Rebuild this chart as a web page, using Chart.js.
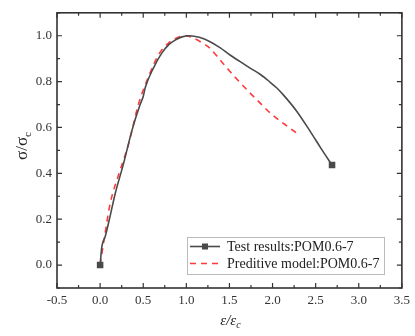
<!DOCTYPE html>
<html>
<head>
<meta charset="utf-8">
<script src="https://cdn.jsdelivr.net/npm/chart.js@4"></script>
<style>
html,body{margin:0;padding:0;background:#fff;}
canvas{display:block;}
</style>
</head>
<body>
<canvas id="c" width="415" height="336"></canvas>
<script>
// ---- data ----
const testX = [0, 0.02, 0.058, 0.12, 0.174, 0.27, 0.367, 0.464, 0.50, 0.522, 0.618, 0.715, 0.80, 0.87, 0.95, 1.04, 1.15, 1.275, 1.39, 1.507, 1.62, 1.74, 1.86, 1.97, 2.05, 2.125, 2.28, 2.435, 2.56, 2.69];
const testY = [0, 0.08, 0.123, 0.22, 0.31, 0.44, 0.584, 0.70, 0.735, 0.772, 0.859, 0.924, 0.962, 0.981, 0.995, 1.0, 0.993, 0.974, 0.948, 0.916, 0.888, 0.859, 0.831, 0.798, 0.772, 0.742, 0.671, 0.584, 0.51, 0.436];
const predX = [0, 0.05, 0.116, 0.22, 0.33, 0.444, 0.56, 0.676, 0.80, 0.90, 0.985, 1.08, 1.18, 1.275, 1.39, 1.507, 1.62, 1.74, 1.86, 1.97, 2.14, 2.3];
const predY = [0, 0.12, 0.267, 0.40, 0.527, 0.70, 0.82, 0.916, 0.97, 0.992, 1.0, 0.99, 0.97, 0.945, 0.895, 0.844, 0.797, 0.75, 0.705, 0.664, 0.614, 0.57];
const xTicks = [-0.5, 0.0, 0.5, 1.0, 1.5, 2.0, 2.5, 3.0, 3.5];
const yTicks = [0.0, 0.2, 0.4, 0.6, 0.8, 1.0];
const seriesLabels = ["Test results:POM0.6-7", "Preditive model:POM0.6-7"];

const toPts = (xs, ys) => xs.map((x, i) => ({x: x, y: ys[i]}));
const markerRadius = (n) => Array.from({length: n}, (_, i) => (i === 0 || i === n - 1) ? 3.5 : 0);

const AXIS = '#333333';
const SERIF = '"Liberation Serif", "Times New Roman", serif';

const framePlugin = {
  id: 'frame',
  afterDraw(chart) {
    const ctx = chart.ctx, a = chart.chartArea;
    const xs = chart.scales.x, ys = chart.scales.y;
    ctx.save();
    ctx.strokeStyle = AXIS;
    ctx.lineWidth = 1.6;
    ctx.strokeRect(a.left, a.top, a.right - a.left, a.bottom - a.top);
    ctx.lineWidth = 1.2;
    ctx.beginPath();
    for (let i = 0; i < xTicks.length; i++) {
      const px = xs.getPixelForValue(xTicks[i]);
      ctx.moveTo(px, a.bottom); ctx.lineTo(px, a.bottom - 5);
      ctx.moveTo(px, a.top); ctx.lineTo(px, a.top + 5);
      if (i < xTicks.length - 1) {
        const mx = xs.getPixelForValue((xTicks[i] + xTicks[i + 1]) / 2);
        ctx.moveTo(mx, a.bottom); ctx.lineTo(mx, a.bottom - 3);
        ctx.moveTo(mx, a.top); ctx.lineTo(mx, a.top + 3);
      }
    }
    for (let i = 0; i < yTicks.length; i++) {
      const py = ys.getPixelForValue(yTicks[i]);
      ctx.moveTo(a.left, py); ctx.lineTo(a.left + 5, py);
      ctx.moveTo(a.right, py); ctx.lineTo(a.right - 5, py);
    }
    for (let v = -0.1; v < 1.11; v += 0.2) {
      const py = ys.getPixelForValue(v);
      ctx.moveTo(a.left, py); ctx.lineTo(a.left + 3, py);
      ctx.moveTo(a.right, py); ctx.lineTo(a.right - 3, py);
    }
    ctx.stroke();

    ctx.fillStyle = '#222';
    // x title: ε/εc
    ctx.font = 'italic 15px ' + SERIF;
    ctx.textBaseline = 'alphabetic';
    const main = 'ε/ε';
    const w1 = ctx.measureText(main).width;
    ctx.font = 'italic 10px ' + SERIF;
    const w2 = ctx.measureText('c').width;
    const cx = (a.left + a.right) / 2 + 1;
    let sx = cx - (w1 + w2) / 2;
    ctx.font = 'italic 15px ' + SERIF;
    ctx.textAlign = 'left';
    ctx.fillText(main, sx, 325);
    ctx.font = 'italic 10px ' + SERIF;
    ctx.fillText('c', sx + w1, 328);

    // y title: σ/σc rotated
    ctx.save();
    ctx.translate(27, 146);
    ctx.rotate(-Math.PI / 2);
    ctx.font = '17px ' + SERIF;
    const m2 = 'σ/σ';
    const v1 = ctx.measureText(m2).width;
    ctx.font = '11px ' + SERIF;
    const v2 = ctx.measureText('c').width;
    let sy = -(v1 + v2) / 2;
    ctx.font = '17px ' + SERIF;
    ctx.fillText(m2, sy, 0);
    ctx.font = '11px ' + SERIF;
    ctx.fillText('c', sy + v1, 4);
    ctx.restore();

    // legend box
    const L = 187, T = 237, R = 384, B = 274;
    ctx.fillStyle = '#ffffff';
    ctx.fillRect(L, T, R - L, B - T);
    ctx.strokeStyle = '#bbbbbb';
    ctx.lineWidth = 1;
    ctx.strokeRect(L + 0.5, T + 0.5, R - L, B - T);
    const ds = chart.data.datasets;
    const rows = [246.5, 263.5];
    for (let k = 0; k < 2; k++) {
      const y = rows[k];
      ctx.strokeStyle = ds[k].borderColor;
      ctx.lineWidth = 1.6;
      ctx.setLineDash(k === 1 ? [6, 5] : []);
      ctx.beginPath();
      ctx.moveTo(190, y); ctx.lineTo(220, y);
      ctx.stroke();
      ctx.setLineDash([]);
      if (k === 0) {
        ctx.fillStyle = ds[0].borderColor;
        ctx.fillRect(202, y - 3, 6, 6);
      }
      ctx.fillStyle = '#222';
      ctx.font = '14px ' + SERIF;
      ctx.textBaseline = 'middle';
      ctx.fillText(ds[k].label, 227, y + 1);
    }
    ctx.restore();
  }
};

new Chart(document.getElementById('c'), {
  type: 'scatter',
  data: {
    datasets: [
      {
        label: seriesLabels[0],
        data: toPts(testX, testY),
        showLine: true,
        borderColor: '#4a4a4a',
        backgroundColor: '#4a4a4a',
        borderWidth: 1.6,
        pointStyle: 'rect',
        pointRadius: markerRadius(testX.length),
        pointHoverRadius: 0,
        cubicInterpolationMode: 'monotone'
      },
      {
        label: seriesLabels[1],
        data: toPts(predX, predY),
        showLine: true,
        borderColor: '#ff3b3b',
        backgroundColor: '#ff3b3b',
        borderWidth: 1.6,
        borderDash: [6, 5],
        pointRadius: 0,
        cubicInterpolationMode: 'monotone'
      }
    ]
  },
  options: {
    responsive: false,
    animation: false,
    events: [],
    layout: {padding: {top: 11, right: 13, left: 0, bottom: 0}},
    plugins: {legend: {display: false}, tooltip: {enabled: false}},
    scales: {
      x: {
        type: 'linear', min: -0.5, max: 3.5,
        grid: {display: false, drawTicks: false},
        border: {display: false},
        afterBuildTicks: (s) => { s.ticks = xTicks.map(v => ({value: v})); },
        afterFit: (s) => { s.height = 48; },
        ticks: {
          padding: 5,
          color: AXIS,
          font: {family: SERIF, size: 13},
          callback: (v) => Number(v).toFixed(1)
        }
      },
      y: {
        type: 'linear', min: -0.1, max: 1.1,
        grid: {display: false, drawTicks: false},
        border: {display: false},
        afterBuildTicks: (s) => { s.ticks = yTicks.map(v => ({value: v})); },
        afterFit: (s) => { s.width = 57; },
        ticks: {
          padding: 5,
          color: AXIS,
          font: {family: SERIF, size: 13},
          callback: (v) => Number(v).toFixed(1)
        }
      }
    }
  },
  plugins: [framePlugin]
});
</script>
</body>
</html>
